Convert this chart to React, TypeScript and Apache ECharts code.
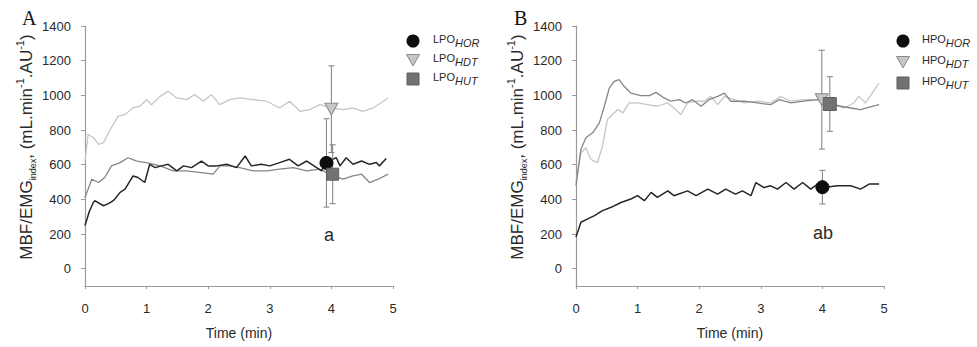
import React, { useEffect, useRef } from "react";
import * as echarts from "echarts";

// ---- Panel A (LPO) : time (min) and MBF/EMG index traces ----
const A_HOR_T = [0, 0.07, 0.135, 0.16, 0.3, 0.38, 0.46, 0.57, 0.65, 0.78, 0.86, 0.97, 1.05, 1.14, 1.24, 1.35, 1.49, 1.6, 1.73, 1.89, 2.0, 2.14, 2.3, 2.46, 2.6, 2.7, 2.86, 3.0, 3.16, 3.32, 3.46, 3.6, 3.76, 3.84, 3.91, 4.08, 4.14, 4.24, 4.35, 4.49, 4.62, 4.73, 4.78, 4.89];
const A_HOR_V = [249, 330, 382, 392, 363, 375, 392, 440, 459, 535, 526, 497, 602, 583, 593, 602, 564, 593, 583, 621, 593, 593, 602, 583, 650, 593, 602, 593, 612, 631, 593, 621, 583, 564, 616, 640, 593, 640, 602, 621, 602, 612, 593, 635];

const A_HUT_T = [0, 0.11, 0.22, 0.32, 0.43, 0.57, 0.7, 0.84, 1.0, 1.22, 1.43, 1.65, 1.86, 2.08, 2.19, 2.35, 2.51, 2.73, 2.95, 3.16, 3.38, 3.6, 3.81, 4.03, 4.19, 4.35, 4.49, 4.62, 4.76, 4.92];
const A_HUT_V = [410, 516, 497, 526, 593, 612, 640, 621, 612, 593, 564, 564, 555, 545, 593, 593, 583, 564, 564, 574, 583, 564, 574, 535, 516, 535, 545, 497, 516, 545];

const A_HDT_T = [0, 0.05, 0.14, 0.22, 0.3, 0.41, 0.54, 0.65, 0.78, 0.89, 1.0, 1.08, 1.22, 1.35, 1.49, 1.65, 1.78, 1.92, 2.05, 2.19, 2.35, 2.51, 2.73, 2.95, 3.16, 3.32, 3.49, 3.65, 3.81, 4.01, 4.19, 4.35, 4.51, 4.68, 4.92];
const A_HDT_V = [620, 774, 755, 717, 727, 803, 880, 889, 927, 937, 975, 946, 994, 1023, 985, 975, 1004, 966, 1004, 946, 975, 985, 975, 966, 927, 966, 908, 918, 946, 927, 918, 927, 908, 927, 985];

// group means at ~4 min with SD: [time, mean, sd]
const A_HOR_MEAN = [3.92, 610, 255];
const A_HDT_MEAN = [4.0, 920, 250];
const A_HUT_MEAN = [4.02, 545, 170];

// ---- Panel B (HPO) ----
const B_HOR_T = [0, 0.08, 0.19, 0.3, 0.43, 0.57, 0.73, 0.89, 1.0, 1.11, 1.22, 1.32, 1.49, 1.59, 1.81, 1.95, 2.14, 2.3, 2.43, 2.59, 2.7, 2.84, 2.92, 3.05, 3.16, 3.27, 3.41, 3.54, 3.68, 3.81, 3.92, 4.03, 4.24, 4.46, 4.62, 4.76, 4.92];
const B_HOR_V = [182, 268, 287, 306, 335, 354, 382, 402, 421, 392, 440, 411, 449, 421, 449, 421, 459, 430, 459, 430, 449, 421, 497, 468, 478, 459, 497, 459, 497, 459, 488, 468, 478, 478, 459, 488, 488];

const B_HUT_T = [0, 0.08, 0.16, 0.27, 0.38, 0.46, 0.54, 0.62, 0.7, 0.78, 0.89, 1.05, 1.19, 1.3, 1.43, 1.54, 1.68, 1.78, 1.89, 2.03, 2.16, 2.3, 2.41, 2.51, 2.73, 2.95, 3.16, 3.3, 3.49, 3.7, 3.92, 4.12, 4.3, 4.46, 4.62, 4.78, 4.92];
const B_HUT_V = [480, 688, 755, 784, 841, 937, 1042, 1080, 1090, 1052, 1013, 998, 998, 1017, 985, 966, 975, 956, 975, 937, 975, 994, 1013, 966, 966, 956, 946, 975, 956, 966, 975, 950, 937, 927, 918, 933, 946];

const B_HDT_T = [0, 0.08, 0.16, 0.24, 0.35, 0.43, 0.51, 0.59, 0.68, 0.76, 0.86, 1.0, 1.16, 1.32, 1.49, 1.59, 1.7, 1.81, 1.95, 2.08, 2.19, 2.3, 2.41, 2.57, 2.73, 2.95, 3.16, 3.32, 3.49, 3.7, 4.0, 4.19, 4.35, 4.51, 4.59, 4.7, 4.92];
const B_HDT_V = [500, 669, 698, 631, 612, 707, 860, 889, 918, 899, 956, 956, 946, 937, 956, 927, 889, 956, 966, 966, 994, 946, 994, 975, 956, 966, 956, 994, 966, 975, 975, 946, 927, 956, 994, 956, 1071];

const B_HOR_MEAN = [4.0, 470, 97];
const B_HDT_MEAN = [3.99, 975, 285];
const B_HUT_MEAN = [4.12, 950, 158];

// axis ticks
const Y_TICKS = [0, 200, 400, 600, 800, 1000, 1200, 1400];
const X_TICKS = [0, 1, 2, 3, 4, 5];
const Y_MIN = -100;
const Y_MAX = 1400;

const C_DARK = "#262626";
const C_MID = "#858585";
const C_LIGHT = "#c6c6c6";
const C_AXIS = "#9b9b9b";
const C_TEXT = "#2a2a2a";
const SANS = "Liberation Sans, Arial, sans-serif";

const pairs = (t: number[], v: number[]) => t.map((x, i) => [x, v[i]]);

const xAxisFor = (gridIndex: number) => ({
  type: "value",
  gridIndex,
  min: 0,
  max: 5,
  interval: 1,
  axisLine: { show: true, onZero: false, lineStyle: { color: C_AXIS, width: 1.2 } },
  axisTick: { show: true, length: 3, lineStyle: { color: C_AXIS } },
  axisLabel: {
    color: C_TEXT,
    fontSize: 13,
    fontFamily: SANS,
    margin: 16,
    customValues: X_TICKS,
    formatter: (v: number) => String(v),
  },
  splitLine: { show: false },
  name: "Time (min)",
  nameLocation: "middle",
  nameGap: 40,
  nameTextStyle: { color: C_TEXT, fontSize: 14, fontFamily: SANS, fontWeight: "normal" },
});

const yAxisFor = (gridIndex: number) => ({
  type: "value",
  gridIndex,
  min: Y_MIN,
  max: Y_MAX,
  axisLine: { show: true, onZero: false, lineStyle: { color: C_AXIS, width: 1.2 } },
  axisTick: { show: true, length: 4, lineStyle: { color: C_AXIS }, customValues: Y_TICKS },
  axisLabel: {
    color: C_TEXT,
    fontSize: 13,
    fontFamily: SANS,
    margin: 14,
    customValues: Y_TICKS,
    formatter: (v: number) => String(v),
  },
  splitLine: { show: false },
});

const lineSeries = (name: string, idx: number, t: number[], v: number[], color: string, width: number, z: number) => ({
  name,
  type: "line",
  xAxisIndex: idx,
  yAxisIndex: idx,
  data: pairs(t, v),
  showSymbol: false,
  symbol: "none",
  lineStyle: { color, width },
  z,
});

const errorSeries = (idx: number, rows: number[][]) => ({
  type: "custom",
  xAxisIndex: idx,
  yAxisIndex: idx,
  data: rows,
  z: 5,
  encode: { x: 0, y: 1 },
  renderItem: (_params: any, api: any) => {
    const x = api.value(0);
    const m = api.value(1);
    const s = api.value(2);
    const top = api.coord([x, m + s]);
    const bot = api.coord([x, m - s]);
    const cw = 3;
    const style = { stroke: "#8a8a8a", lineWidth: 1.1 };
    return {
      type: "group",
      children: [
        { type: "line", shape: { x1: top[0], y1: top[1], x2: bot[0], y2: bot[1] }, style },
        { type: "line", shape: { x1: top[0] - cw, y1: top[1], x2: top[0] + cw, y2: top[1] }, style },
        { type: "line", shape: { x1: bot[0] - cw, y1: bot[1], x2: bot[0] + cw, y2: bot[1] }, style },
      ],
    };
  },
});

const markerSeries = (idx: number, row: number[], symbol: string, size: number | number[], fill: string, stroke: string, rotate = 0) => ({
  type: "scatter",
  xAxisIndex: idx,
  yAxisIndex: idx,
  data: [[row[0], row[1]]],
  symbol,
  symbolSize: size,
  symbolRotate: rotate,
  itemStyle: { color: fill, borderColor: stroke, borderWidth: 1, opacity: 1 },
  z: 6,
});

// legend entry text with italic subscript
const legendText = (x: number, y: number, base: string, sub: string) => ({
  type: "text",
  x,
  y,
  style: {
    text: `{m|${base}}{s|${sub}}`,
    align: "left",
    verticalAlign: "middle",
    fill: C_TEXT,
    rich: {
      m: { fontSize: 11, fontFamily: SANS, fill: C_TEXT, verticalAlign: "top", lineHeight: 11 },
      s: { fontSize: 11, fontFamily: SANS, fontStyle: "italic", fill: C_TEXT, lineHeight: 20 },
    },
  },
});

const legendBlock = (cx: number, textX: number, rows: number[], prefix: string) => [
  { type: "circle", shape: { cx, cy: rows[0], r: 6.5 }, style: { fill: "#0d0d0d" } },
  {
    type: "polygon",
    shape: { points: [[cx - 6.5, rows[1] - 5.5], [cx + 6.5, rows[1] - 5.5], [cx, rows[1] + 6]] },
    style: { fill: C_LIGHT, stroke: "#8a8a8a", lineWidth: 1 },
  },
  { type: "rect", shape: { x: cx - 6, y: rows[2] - 6, width: 12, height: 12 }, style: { fill: "#727272", stroke: "#5e5e5e", lineWidth: 1 } },
  legendText(textX, rows[0] + 2, prefix, "HOR"),
  legendText(textX, rows[1] + 2, prefix, "HDT"),
  legendText(textX, rows[2] + 2, prefix, "HUT"),
];

const yTitle = (x: number, y: number) => ({
  type: "text",
  x,
  y,
  rotation: Math.PI / 2,
  style: {
    text: "{m|MBF/EMG}{sub|index}{m|, (mL.min}{sup|-1}{m|.AU}{sup|-1}{m|)}",
    align: "center",
    verticalAlign: "middle",
    fill: C_TEXT,
    rich: {
      m: { fontSize: 17, fontFamily: SANS, fill: C_TEXT, lineHeight: 23 },
      sup: { fontSize: 11, fontFamily: SANS, fill: C_TEXT, verticalAlign: "top" },
      sub: { fontSize: 9, fontFamily: SANS, fill: C_TEXT, verticalAlign: "bottom" },
    },
  },
});

export default function App() {
  const ref = useRef<HTMLDivElement>(null);

  useEffect(() => {
    if (!ref.current) return;
    const chart = echarts.init(ref.current, undefined, { renderer: "svg" });
    chart.setOption({
      animation: false,
      backgroundColor: "#ffffff",
      grid: [
        { left: 85, top: 26, width: 308, height: 260 },
        { left: 576, top: 26, width: 308, height: 260 },
      ],
      xAxis: [xAxisFor(0), xAxisFor(1)],
      yAxis: [yAxisFor(0), yAxisFor(1)],
      series: [
        lineSeries("LPO HDT", 0, A_HDT_T, A_HDT_V, C_LIGHT, 1.3, 2),
        lineSeries("LPO HUT", 0, A_HUT_T, A_HUT_V, C_MID, 1.3, 3),
        lineSeries("LPO HOR", 0, A_HOR_T, A_HOR_V, C_DARK, 1.5, 4),
        errorSeries(0, [A_HOR_MEAN, A_HDT_MEAN, A_HUT_MEAN]),
        markerSeries(0, A_HDT_MEAN, "triangle", [13, 12], C_LIGHT, "#8a8a8a", 180),
        markerSeries(0, A_HOR_MEAN, "circle", 13, "#0d0d0d", "#0d0d0d"),
        markerSeries(0, A_HUT_MEAN, "rect", 12, "#727272", "#5e5e5e"),

        lineSeries("HPO HDT", 1, B_HDT_T, B_HDT_V, C_LIGHT, 1.3, 2),
        lineSeries("HPO HUT", 1, B_HUT_T, B_HUT_V, C_MID, 1.3, 3),
        lineSeries("HPO HOR", 1, B_HOR_T, B_HOR_V, C_DARK, 1.5, 4),
        errorSeries(1, [B_HOR_MEAN, B_HDT_MEAN, B_HUT_MEAN]),
        markerSeries(1, B_HDT_MEAN, "triangle", [13, 12], C_LIGHT, "#8a8a8a", 180),
        markerSeries(1, B_HOR_MEAN, "circle", 13, "#0d0d0d", "#0d0d0d"),
        markerSeries(1, B_HUT_MEAN, "rect", 13, "#727272", "#5e5e5e"),
      ],
      graphic: [
        { type: "text", x: 22, y: 28, style: { text: "A", font: "20px 'Liberation Serif', serif", fill: "#111", verticalAlign: "bottom" } },
        { type: "text", x: 514, y: 28, style: { text: "B", font: "20px 'Liberation Serif', serif", fill: "#111", verticalAlign: "bottom" } },
        yTitle(26, 147),
        yTitle(517, 147),
        { type: "text", x: 329, y: 235, style: { text: "a", font: `18px ${SANS}`, fill: C_TEXT, align: "center", verticalAlign: "middle" } },
        { type: "text", x: 823, y: 233, style: { text: "ab", font: `18px ${SANS}`, fill: C_TEXT, align: "center", verticalAlign: "middle" } },
        ...legendBlock(413, 433, [41, 60, 79], "LPO"),
        ...legendBlock(903, 922, [41, 62, 83], "HPO"),
      ],
    });
    return () => chart.dispose();
  }, []);

  return (
    <div
      ref={ref}
      style={{ position: "fixed", left: 0, top: 0, width: 977, height: 347, background: "#fff" }}
    />
  );
}
